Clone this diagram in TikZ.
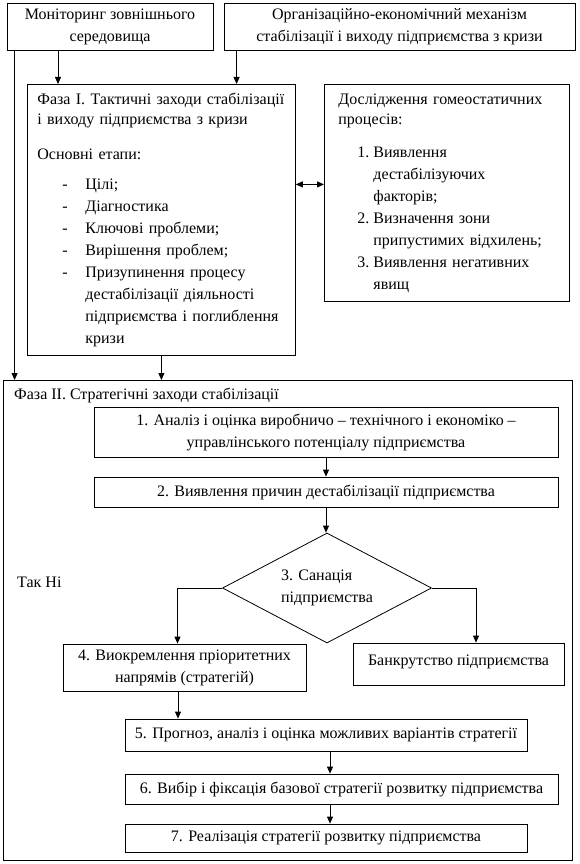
\documentclass[tikz,border=0pt]{standalone}
\usepackage{fontspec}
\setmainfont{Liberation Serif}
\usetikzlibrary{positioning,calc,arrows.meta,shapes.geometric}
\def\BoxFont{\fontsize{16pt}{22pt}\selectfont}
\newcommand{\ItemDash}{\hspace*{25pt}\makebox[23pt][l]{-}}
\newcommand{\ItemCont}{\hspace*{48pt}}
\newcommand{\ItemNum}[1]{\hspace*{19pt}\makebox[16pt][l]{#1}}
\newcommand{\NumCont}{\hspace*{35pt}}
\tikzset{
  signal/.style={-{Triangle[length=7pt,width=6pt]},line width=0.8pt},
  twoway/.style={{Triangle[length=7pt,width=6pt]}-{Triangle[length=7pt,width=6pt]},line width=0.8pt},
  block/.style={draw=black,line width=0.8pt,inner sep=0pt,align=center,font=\BoxFont},
  panel/.style={draw=black,line width=0.8pt,inner ysep=0pt,align=left,font=\BoxFont},
  decision/.style={diamond,draw=black,line width=0.8pt,inner sep=0pt,shape aspect=2,
    align=left,font=\BoxFont}
}
\begin{document}
\begin{tikzpicture}[x=1pt,y=-1pt]
  \useasboundingbox (0,0) rectangle (580,864);

  % Top row
  \node[block,minimum width=206pt,minimum height=47pt] (monitor) at (110,26.5)
    {Моніторинг зовнішнього\\середовища};
  \node[block,minimum width=351pt,minimum height=47pt] (mechanism) at (399.5,26.5)
    {Організаційно-економічний механізм\\стабілізації і виходу підприємства з кризи};

  % Phase I and homeostatic research
  \node[panel,anchor=north west,inner xsep=10pt,text width=248pt,minimum height=271pt]
    (phase1) at (27,84) {%
    Фаза I. Тактичні заходи стабілізації\\[-2pt]
    і виходу підприємства з кризи\\[13pt]
    Основні етапи:\\[8pt]
    \ItemDash Цілі;\\
    \ItemDash Діагностика\\
    \ItemDash Ключові проблеми;\\
    \ItemDash Вирішення проблем;\\
    \ItemDash Призупинення процесу\\
    \ItemCont дестабілізації діяльності\\
    \ItemCont підприємства і поглиблення\\
    \ItemCont кризи};
  \node[panel,anchor=north west,inner xsep=14pt,text width=217pt,minimum height=217pt]
    (homeo) at (324,84) {%
    Дослідження гомеостатичних\\[-2pt]
    процесів:\\[11pt]
    \ItemNum{1.}Виявлення\\
    \NumCont дестабілізуючих\\
    \NumCont факторів;\\
    \ItemNum{2.}Визначення зони\\
    \NumCont припустимих відхилень;\\
    \ItemNum{3.}Виявлення негативних\\
    \NumCont явищ};

  % Phase II frame
  \node[draw=black,line width=0.8pt,inner sep=0pt,anchor=north west,
    minimum width=569pt,minimum height=480pt] (phase2) at (3,380) {};
  \node[font=\BoxFont,inner sep=0pt,anchor=west] (phase2title) at (14,395)
    {Фаза II. Стратегічні заходи стабілізації};

  \node[block,minimum width=464pt,minimum height=50pt] (analysis) at (326,432)
    {1. Аналіз і оцінка виробничо – технічного і економіко –\\
     управлінського потенціалу підприємства};
  \node[block,minimum width=464pt,minimum height=30pt] (causes) at (326,492)
    {2. Виявлення причин дестабілізації підприємства};
  \node[decision,minimum width=209pt,minimum height=110pt] (sanation) at (327,588)
    {3. Санація\\підприємства};
  \node[font=\BoxFont,inner sep=0pt,anchor=west] (yesno) at (17,582) {Так Ні};

  \node[block,minimum width=243pt,minimum height=47pt] (priority) at (184.5,667.5)
    {4. Виокремлення пріоритетних\\напрямів (стратегій)};
  \node[block,minimum width=211pt,text height=22pt,text depth=20pt] (bankrupt) at (458.5,664)
    {Банкрутство підприємства};

  \node[block,minimum width=402pt,minimum height=32pt] (forecast) at (326,735)
    {5. Прогноз, аналіз і оцінка можливих варіантів стратегії};
  \node[block,minimum width=433pt,minimum height=30pt] (choice) at (341.5,789)
    {6. Вибір і фіксація базової стратегії розвитку підприємства};
  \node[block,minimum width=402pt,minimum height=28pt] (realize) at (326,838)
    {7. Реалізація стратегії розвитку підприємства};

  % Connections
  \draw[signal] ([xshift=-52pt]monitor.south) -- ([xshift=-52pt]monitor.south |- phase1.north);
  \draw[signal] ([xshift=13pt]mechanism.south west) -- ([xshift=13pt]mechanism.south west |- phase1.north);
  \draw[signal] ([xshift=8pt]monitor.south west) -- ([xshift=8pt]monitor.south west |- phase2.north);
  \draw[signal] (phase1.south) -- (phase1.south |- phase2.north);
  \draw[twoway] ([yshift=35.5pt]phase1.east) -- ([yshift=35.5pt]phase1.east -| homeo.west);

  \draw[signal] (analysis.south) -- (causes.north);
  \draw[signal] (causes.south) -- (causes.south |- sanation.north);
  \draw[signal] (sanation.west) -| ([xshift=-7pt]priority.north);
  \draw[signal] (sanation.east) -| ([xshift=17.5pt]bankrupt.north);
  \draw[signal] ([xshift=-6.5pt]priority.south) -- ([xshift=-6.5pt]priority.south |- forecast.north);
  \draw[signal] ([xshift=4pt]forecast.south) -- ([xshift=4pt]forecast.south |- choice.north);
  \draw[signal] ([xshift=4pt]realize.north |- choice.south) -- ([xshift=4pt]realize.north);
\end{tikzpicture}
\end{document}
